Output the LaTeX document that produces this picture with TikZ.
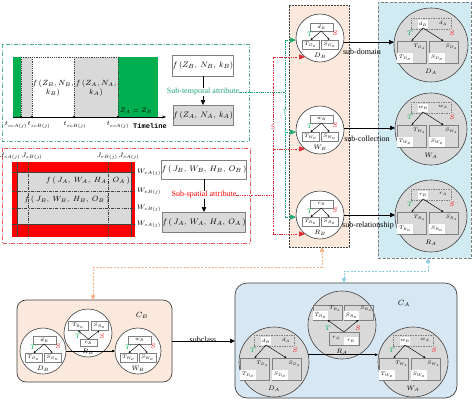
\RequirePackage{fix-cm}
\documentclass[tikz,border=0pt]{standalone}
\usepackage{fontspec}
\setmainfont{Liberation Serif}
\setmonofont{Liberation Mono}
\usetikzlibrary{arrows.meta,calc}
\DeclareMathSizes{5}{5}{3.6}{2.8}
\DeclareMathSizes{6.5}{6.5}{4.6}{3.6}
\DeclareMathSizes{7.5}{7.5}{5.3}{4.2}
\definecolor{peach}{HTML}{FCE9DE}
\definecolor{lblue}{HTML}{D1EBF2}
\definecolor{cablue}{HTML}{D7E7F3}
\definecolor{cgrey}{HTML}{D9D9D9}
\definecolor{bgrey}{HTML}{7F7F7F}
\definecolor{dgrey}{HTML}{404040}
\definecolor{tgreen}{HTML}{00B050}
\definecolor{lgreen}{HTML}{1FA871}
\definecolor{gboxc}{HTML}{52B08A}
\definecolor{tred}{HTML}{FF0000}
\definecolor{lred}{HTML}{E0303A}
\definecolor{rboxc}{HTML}{E05A5A}
\definecolor{lorange}{HTML}{F4B183}
\definecolor{lcyan}{HTML}{8CCFE0}
\newcommand\fsz[1]{\fontsize{#1}{#1}\selectfont}
\tikzset{
  every node/.style={inner sep=0pt, outer sep=0pt},
  bx/.style={draw=bgrey, fill=white, line width=0.5pt},
  gbx/.style={draw=bgrey, fill=cgrey, line width=0.6pt},
  obx/.style={draw=bgrey, line width=0.6pt},
  dbx/.style={draw=bgrey, dash pattern=on 1.5pt off 1pt, line width=0.5pt},
  wbx/.style={fill=white},
  smcirc/.style={circle, draw=dgrey, fill=white, line width=0.6pt},
  bgcirc/.style={circle, draw=dgrey, fill=cgrey, line width=0.6pt},
  tinyf/.style={font=\fsz{5}},
  clab/.style={font=\fsz{6.5}},
  tl/.style={text=tgreen, font=\fsz{6.5}},
  sl/.style={text=tred, font=\fsz{6.5}},
  sarr/.style={-{Stealth[length=2.4pt,width=2pt]}, line width=0.45pt},
  sarrb/.style={-{Triangle[length=3pt,width=2.5pt]}, line width=0.5pt},
  arr/.style={-{Triangle[length=5pt,width=4.5pt]}, line width=0.6pt},
  lab/.style={font=\fontsize{8}{10}\selectfont},
  flab/.style={font=\fontsize{7.5}{9.5}\selectfont},
  tick/.style={font=\fsz{6.5}},
  gbox/.style={draw=gboxc, line width=0.7pt, dash pattern=on 4pt off 1.5pt on 1pt off 1.5pt},
  rbox/.style={draw=rboxc, line width=0.7pt, dash pattern=on 4pt off 1.5pt on 1pt off 1.5pt},
  gline/.style={draw=lgreen, line width=0.6pt, dash pattern=on 2.5pt off 1.2pt on 0.6pt off 1.2pt},
  rline/.style={draw=lred, line width=0.6pt, dash pattern=on 2.5pt off 1.2pt on 0.6pt off 1.2pt on 0.6pt off 1.2pt},
  garr/.style={-{Triangle[length=6pt,width=5pt]}},
  tdash/.style={draw=dgrey, line width=0.4pt, dash pattern=on 1.2pt off 1pt},
  fdash/.style={draw=dgrey, line width=0.4pt, dash pattern=on 3pt off 1.2pt on 0.8pt off 1.2pt},
  oline/.style={draw=lorange, line width=0.7pt, dash pattern=on 2pt off 1.5pt, {Triangle[length=5pt,width=4.5pt]}-{Triangle[length=5pt,width=4.5pt]}},
  bline/.style={draw=lcyan, line width=0.7pt, dash pattern=on 2pt off 1.5pt, {Triangle[length=5pt,width=4.5pt]}-{Triangle[length=5pt,width=4.5pt]}},
}
% small motif: name, cx, cy, r, letter, Capital
\newcommand\smallmotif[6]{%
  \begin{scope}[shift={(#2,#3)}]
    \node[smcirc, minimum size={2*#4pt}] (#1) at (0,0) {};
    \node[bx, minimum width=23pt, minimum height=8pt, tinyf] (#1t) at (1.5,-11) {$#5_B$};
    \node[bx, minimum width=17pt, minimum height=9pt, tinyf] (#1l) at (-9.5,6.5) {$T_{#6_B}$};
    \node[bx, minimum width=17pt, minimum height=9pt, tinyf] (#1r) at (9.5,6.5) {$S_{#6_B}$};
    \draw[sarr] (#1t.south) -- (#1l.north);
    \draw[sarr] (#1t.south) -- (#1r.north);
    \node[tl] (#1T) at (-10,-4) {$T$};
    \node[sl] (#1S) at (15,-5) {$S$};
    \node[clab] (#1n) at (0,17.5) {$#6_B$};
  \end{scope}}
\newcommand\smallmotifinv[6]{%
  \begin{scope}[shift={(#2,#3)}]
    \node[smcirc, minimum size={2*#4pt}] (#1) at (0,0) {};
    \node[bx, minimum width=20pt, minimum height=9pt, tinyf] (#1l) at (-10,-7) {$T_{#6_B}$};
    \node[bx, minimum width=17pt, minimum height=9pt, tinyf] (#1r) at (11.5,-7) {$S_{#6_B}$};
    \node[bx, minimum width=17pt, minimum height=7pt, tinyf] (#1b) at (0.5,9.5) {$#5_B$};
    \draw[sarr] (#1b.north) -- (#1l.south);
    \draw[sarr] (#1b.north) -- (#1r.south);
    \node[tl] (#1T) at (-10,3) {$T$};
    \node[sl] (#1S) at (14,3) {$S$};
    \node[clab] (#1n) at (0,18.5) {$#6_B$};
  \end{scope}}
\newcommand\bigmotif[6]{%
  \begin{scope}[shift={(#2,#3)}]
    \node[bgcirc, minimum size={2*#4pt}] (#1) at (0,0) {};
    \node[dbx, minimum width=40pt, minimum height=11pt] (#1o) at (0,-21.5) {};
    \node[wbx, minimum width=10pt, minimum height=8pt, tinyf] (#1t) at (-8,-21) {$#5_B$};
    \node[tinyf] (#1ta) at (12,-22) {$#5_A$};
    \node[obx, minimum width=29pt, minimum height=22pt] (#1l) at (-19.5,7) {};
    \node[wbx, minimum width=16pt, minimum height=10pt, tinyf] (#1li) at (-26,13) {$T_{#6_B}$};
    \node[tinyf] (#1la) at (-11.5,1.5) {$T_{#6_A}$};
    \node[obx, minimum width=29pt, minimum height=22pt] (#1r) at (12.5,7) {};
    \node[wbx, minimum width=16pt, minimum height=10pt, tinyf] (#1ri) at (6,13) {$S_{#6_B}$};
    \node[tinyf] (#1ra) at (20.5,1.5) {$S_{#6_A}$};
    \draw[sarr] (#1t.south) -- (#1l.north);
    \draw[sarr] (#1t.south) -- (#1r.north);
    \node[tl] (#1T) at (-21,-12) {$T$};
    \node[sl] (#1S) at (21,-12) {$S$};
    \node[clab] (#1n) at (0,27) {$#6_A$};
  \end{scope}}
\newcommand\bigmotifinv[6]{%
  \begin{scope}[shift={(#2,#3)}]
    \node[bgcirc, minimum size={2*#4pt}] (#1) at (0,0) {};
    \node[obx, minimum width=29pt, minimum height=15pt] (#1l) at (-14.5,-12.5) {};
    \node[wbx, minimum width=15pt, minimum height=9pt, tinyf] (#1li) at (-21.5,-9.5) {$T_{#6_B}$};
    \node[tinyf] (#1la) at (-7,-16) {$T_{#6_A}$};
    \node[obx, minimum width=29pt, minimum height=15pt] (#1r) at (16.5,-12.5) {};
    \node[wbx, minimum width=15pt, minimum height=9pt, tinyf] (#1ri) at (9.5,-9.5) {$S_{#6_B}$};
    \node[tinyf] (#1ra) at (24,-16) {$S_{#6_A}$};
    \node[obx, minimum width=30pt, minimum height=13pt] (#1b) at (2,13.5) {};
    \node[tinyf] (#1ba) at (-6,13) {$#5_A$};
    \node[wbx, minimum width=14pt, minimum height=8pt, tinyf] (#1bi) at (9,16) {$#5_B$};
    \draw[sarr] (#1b.north) -- (#1l.south);
    \draw[sarr] (#1b.north) -- (#1r.south);
    \node[tl] (#1T) at (-14,3) {$T$};
    \node[sl] (#1S) at (16,3) {$S$};
    \node[clab] (#1n) at (0,27) {$#6_A$};
  \end{scope}}
\begin{document}
\begin{tikzpicture}[x=1pt,y=-1pt]
\useasboundingbox (0,0) rectangle (474,400);
% ===== temporal part
\draw[gbox] (2,44) rectangle (249,141);
\fill[tgreen] (13,57) rectangle (21,117);
\fill[cgrey] (21,57) rectangle (32,117);
\fill[cgrey] (74,57) rectangle (118,117);
\fill[tgreen] (118,57) rectangle (158,117);
\draw[tdash] (21,57) -- (118,57);
\foreach \xx in {21,32,74,118} \draw[tdash] (\xx,57) -- (\xx,117);
\coordinate (ax0) at (13,117);
\coordinate (ax1) at (166,117);
\draw[line width=0.6pt, -{Stealth[length=4pt,width=3pt]}] (ax0) -- (ax1);
\foreach \xx in {21,32,74,118} \fill (\xx,117) circle (1.4pt);
\node[tick] (ts1) at (16,125) {$t_{scA(j)}$};
\node[tick] (ts2) at (39,125) {$t_{scB(j)}$};
\node[tick] (te2) at (75,125) {$t_{ecB(j)}$};
\node[tick] (te1) at (118,125) {$t_{ecA(j)}$};
\node[font=\ttfamily\bfseries\fsz{7}] (tline) at (150,126) {Timeline};
\node[flab, align=center] (fzb) at (53,88) {$f\,(Z_B, N_B,$\\$k_B)$};
\node[flab, align=center] (fza) at (96,88) {$f\,(Z_A, N_A,$\\$k_A)$};
\node[tick] (zeq) at (136,111) {$Z_A=Z_B$};
\node[bx, lab, line width=0.6pt, minimum width=60pt, minimum height=21pt] (bzb) at (203,65.5) {$f\,(Z_B,\ N_B,\ k_B)$};
\node[lab, text=lgreen] (subt) at (203,92) {Sub-temporal attribute};
\node[gbx, lab, minimum width=60pt, minimum height=20pt] (bza) at (203,115) {$f\,(Z_A,\ N_A,\ k_A)$};
\draw[line width=0.6pt] (bzb.south) -- (subt.north);
\draw[arr] (subt.south) -- (bza.north);
% ===== spatial part
\draw[rbox] (2,148) rectangle (250,243);
\fill[tred] (12,162) rectangle (135,237);
\fill[cgrey] (17,172) rectangle (131,224);
\draw[dgrey, line width=0.4pt] (17,162) -- (17,237) (131,162) -- (131,237) (12,172) -- (135,172) (12,224) -- (135,224);
\draw[fdash] (28,162) -- (28,237) (108,162) -- (108,237) (12,191) -- (135,191) (12,208) -- (135,208);
\node[tick] (jsa) at (10,156) {$J_{sA(j)}$};
\node[tick] (jsb) at (32,156) {$J_{sB(j)}$};
\node[tick] (jeb) at (107,156) {$J_{eB(j)}$};
\node[tick] (jea) at (129,156) {$J_{eA(j)}$};
\node[tick, anchor=west] (wea) at (137,172) {$W_{eA(j)}$};
\node[tick, anchor=west] (web) at (137,191) {$W_{eB(j)}$};
\node[tick, anchor=west] (wsb) at (137,208) {$W_{sB(j)}$};
\node[tick, anchor=west] (wsa) at (137,224) {$W_{sA(j)}$};
\node[flab] (fja) at (88,180.5) {$f\,(\,J_A,\ W_A,\ H_A,\ O_A\,)$};
\node[flab] (fjb) at (67,199.5) {$f\,(\,J_B,\ W_B,\ H_B,\ O_B\,)$};
\node[bx, lab, line width=0.6pt, minimum width=80pt, minimum height=19pt] (bjb) at (204,169.5) {$f\,(\,J_B,\ W_B,\ H_B,\ O_B\,)$};
\node[lab, text=tred] (subs) at (204,195) {Sub-spatial attribute};
\node[gbx, lab, minimum width=80pt, minimum height=20pt] (bja) at (204,222) {$f\,(\,J_A,\ W_A,\ H_A,\ O_A\,)$};
\draw[line width=0.6pt] (bjb.south) -- (subs.north);
\draw[arr] (subs.south) -- (bja.north);
% ===== columns
\node[draw=dgrey, dash pattern=on 2pt off 1pt, fill=peach, line width=0.6pt, minimum width=60pt, minimum height=242pt] (pcol) at (319,126) {};
\node[draw=bgrey, dash pattern=on 3pt off 1.5pt, fill=lblue, line width=1pt, minimum width=93pt, minimum height=256pt] (bcol) at (424.5,130) {};
\smallmotif{db}{320}{38}{24}{d}{D}
\smallmotif{wb}{320}{130}{24}{w}{W}
\smallmotif{rb}{320}{215}{24}{r}{R}
\bigmotif{da}{431}{45}{37}{d}{D}
\bigmotif{wa}{431}{129}{36}{w}{W}
\bigmotif{ra}{431}{216}{36}{r}{R}
\draw[arr] (db.350) -- (db.350 -| da.west);
\draw[arr] (wb.5) -- (wb.5 -| wa.west);
\draw[arr] (rb.east) -- (rb.east -| ra.west);
\node[lab] (lsd) at (362,52) {sub-domain};
\node[lab] (lsc) at (367,139) {sub-collection};
\node[lab] (lsr) at (368,226) {sub-relationship};
% green and red connectors
\coordinate (gj) at (285,92);
\coordinate (rj) at (273,195);
\draw[gline] (subt.east) -- (subt.east -| gj);
\draw[gline] (db.185 -| gj) -- (rb.185 -| gj);
\foreach \nm in {db,wb,rb} \draw[gline, garr] (\nm.185 -| gj) -- (\nm.185);
\draw[rline] (subs.east) -- (subs.east -| rj);
\draw[rline] (db.232 -| rj) -- (rb.232 -| rj);
\foreach \nm in {db,wb,rb} \draw[rline, garr] (\nm.232 -| rj) -- (\nm.232);
\node[fill=white, text=lgreen, font=\fsz{7}, inner sep=0.6pt] (gT) at (285,112) {T};
\node[fill=white, text=lred, font=\fsz{7}, inner sep=0.6pt] (rS) at (273,127) {S};
% ===== C_B
\node[draw=dgrey, fill=peach, rounded corners=9pt, line width=0.7pt, minimum width=155pt, minimum height=82pt] (cb) at (94.5,341) {};
\node[font=\fsz{7.5}] (cbl) at (142,315) {$C_B$};
\smallmotif{cdb}{43}{351}{23}{d}{D}
\smallmotifinv{crb}{88}{333}{24}{r}{R}
\smallmotif{cwb}{138}{351}{23}{w}{W}
\draw[sarrb] (cdb.east) -- (cwb.west);
% ===== C_A
\node[draw=dgrey, fill=cablue, rounded corners=12pt, line width=0.7pt, minimum width=222pt, minimum height=115pt] (ca) at (346,340.5) {};
\node[font=\fsz{7.5}] (cal) at (404,303) {$C_A$};
\bigmotif{cda}{274}{362}{35}{d}{D}
\bigmotifinv{cra}{342}{325}{34}{r}{R}
\bigmotif{cwa}{413}{362}{35}{w}{W}
\draw[sarrb] (cda.12) -- (cda.12 -| cwa.west);
% subclass
\draw[arr] (cb.east) -- (cb.east -| ca.west);
\node[lab] (scl) at (203,340) {subclass};
% dashed feedback connectors
\coordinate (o1) at (93,267);
\coordinate (o2) at (322,267);
\draw[oline] (cb.north -| o1) -- (o1) -- (o2) -- (pcol.south -| o2);
\coordinate (b1) at (344,271);
\coordinate (b2) at (428,271);
\draw[bline] (ca.north -| b1) -- (b1) -- (b2) -- (bcol.south -| b2);
\end{tikzpicture}
\end{document}
